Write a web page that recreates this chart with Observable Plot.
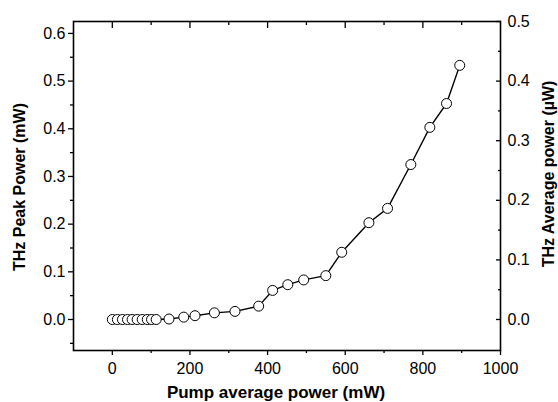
<!DOCTYPE html>
<html>
<head>
<meta charset="utf-8">
<script src="https://cdn.jsdelivr.net/npm/d3@7"></script>
<script src="https://cdn.jsdelivr.net/npm/@observablehq/plot@0.6"></script>
<style>
  html, body { margin: 0; padding: 0; background: #fff; }
  svg { display: block; }
</style>
</head>
<body>
<div id="chart"></div>
<script>
// Pump average power (mW)
const pump = [0, 13, 26, 39, 51, 64, 77, 90, 101, 113, 146, 184, 213, 263, 316, 377, 413, 452, 493, 550, 591, 661, 709, 769, 818, 861, 895];
// THz peak power (mW)
const peak = [0, 0, 0, 0, 0, 0, 0, 0, 0, 0, 0.001, 0.005, 0.008, 0.014, 0.017, 0.028, 0.061, 0.073, 0.083, 0.092, 0.141, 0.203, 0.233, 0.325, 0.403, 0.453, 0.533];

const xMajor = [0, 200, 400, 600, 800, 1000];
const xMinor = [100, 300, 500, 700, 900];
const xTopMajor = [0, 200, 400, 600, 800];
const yLeftMajor = [0, 0.1, 0.2, 0.3, 0.4, 0.5, 0.6];
const yLeftMinor = [-0.05, 0.05, 0.15, 0.25, 0.35, 0.45, 0.55];
const yRightMajor = [0, 0.1, 0.2, 0.3, 0.4, 0.5];
const yRightMinor = [0.05, 0.15, 0.25, 0.35, 0.45];
const ratio = 1.25; // peak (mW) per average (µW)

const data = pump.map((p, i) => ({pump: p, peak: peak[i]}));

const font = "'Liberation Sans', Arial, Helvetica, sans-serif";
const fs = 16;

const chart = Plot.plot({
  width: 558,
  height: 402,
  marginLeft: 73,
  marginRight: 58,
  marginTop: 21,
  marginBottom: 52,
  style: {fontFamily: font, fontSize: fs + "px", color: "#000", background: "#fff"},
  x: {domain: [-100, 1000]},
  y: {domain: [-0.065, 0.625]},
  marks: [
    // bottom axis
    Plot.axisX({ticks: xMajor, tickSize: 5, tickPadding: 7, tickFormat: d => String(d), label: null, fontSize: fs, strokeWidth: 1.3}),
    Plot.axisX({ticks: xMinor, tickSize: 3, text: null, label: null, strokeWidth: 1.3}),
    // top axis (inward ticks)
    Plot.axisX({anchor: "top", ticks: xTopMajor, tickSize: -6, text: null, label: null, strokeWidth: 1.3}),
    Plot.axisX({anchor: "top", ticks: xMinor, tickSize: -3, text: null, label: null, strokeWidth: 1.3}),
    // left axis
    Plot.axisY({ticks: yLeftMajor, tickSize: 5, tickPadding: 3, tickFormat: d => d.toFixed(1), label: null, fontSize: fs, strokeWidth: 1.3}),
    Plot.axisY({ticks: yLeftMinor, tickSize: 3, text: null, label: null, strokeWidth: 1.3}),
    // right axis (inward ticks)
    Plot.axisY({anchor: "right", ticks: yRightMajor.map(v => v * ratio), tickSize: -5, text: null, label: null, strokeWidth: 1.3}),
    Plot.axisY({anchor: "right", ticks: yRightMinor.map(v => v * ratio), tickSize: -3, text: null, label: null, strokeWidth: 1.3}),
    Plot.axisY({anchor: "right", ticks: yRightMajor.map(v => v * ratio), tickSize: 0, tickPadding: 7, tickFormat: d => (d / ratio).toFixed(1), label: null, fontSize: fs}),
    Plot.frame({stroke: "#000", strokeWidth: 1.6}),
    // data
    Plot.line(data, {x: "pump", y: "peak", stroke: "#000", strokeWidth: 1.4}),
    Plot.dot(data, {x: "pump", y: "peak", r: 5, fill: "#fff", stroke: "#000", strokeWidth: 1}),
    // axis titles
    Plot.text(["Pump average power (mW)"], {frameAnchor: "bottom", textAnchor: "middle", lineAnchor: "middle", dx: -11, dy: 42, text: d => d, fontSize: 17, fontWeight: "bold", fill: "#000"}),
    Plot.text(["THz Peak Power (mW)"], {frameAnchor: "left", textAnchor: "middle", lineAnchor: "middle", dx: -54, dy: 1, rotate: -90, text: d => d, fontSize: 16, fontWeight: "bold", fill: "#000"}),
    Plot.text(["THz Average power (\u00b5W)"], {frameAnchor: "right", textAnchor: "middle", lineAnchor: "middle", dx: 48, dy: -12, rotate: -90, text: d => d, fontSize: 16, fontWeight: "bold", fill: "#000"})
  ]
});
document.getElementById("chart").appendChild(chart);
</script>
</body>
</html>
